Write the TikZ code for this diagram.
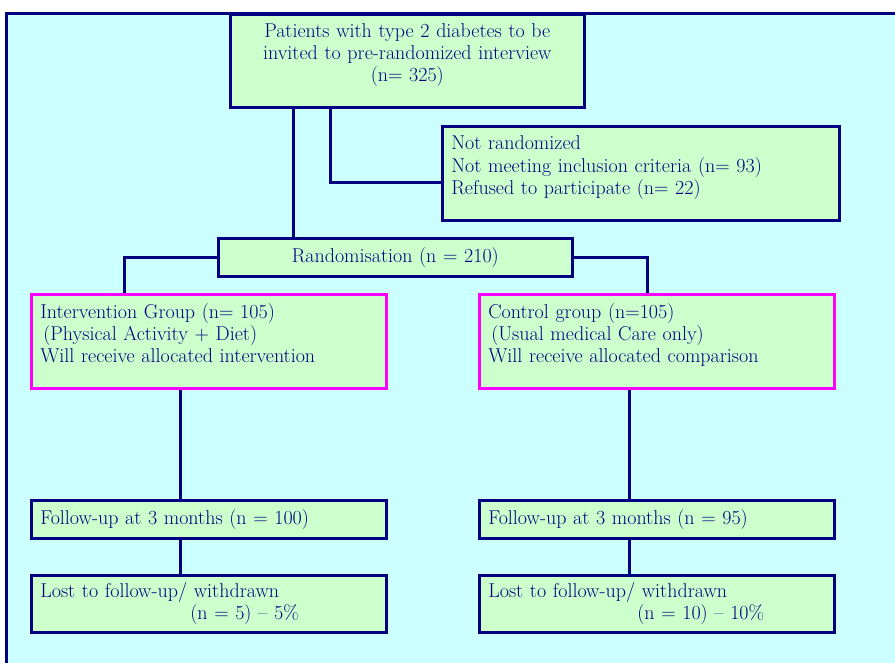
\documentclass[tikz,border=0pt]{standalone}
\usetikzlibrary{positioning,calc}
\definecolor{navy}{HTML}{000080}
\definecolor{paleCyan}{HTML}{CCFFFF}
\definecolor{paleGreen}{HTML}{CCFFCC}
\definecolor{pinkBorder}{HTML}{FF00FF}

\begin{document}
\begin{tikzpicture}[
    x=1pt, y=-1pt,
    box/.style   = {draw=navy, line width=2.6pt, fill=paleGreen, anchor=north west,
                    inner xsep=9pt, inner ysep=6pt, text width=337pt, align=left,
                    text=navy, font=\fontsize{20}{22.3}\selectfont},
    arm/.style   = {box, draw=pinkBorder, minimum height=94pt},
    thin/.style  = {box, minimum height=38pt},
    link/.style  = {draw=navy, line width=2.6pt},
]
\clip (0,0) rectangle (895,663);
\fill[white] (0,0) rectangle (895,663);
\filldraw[fill=paleCyan, draw=navy, line width=2.8pt] (6.5,13.5) rectangle (910,680);

% screening
\node[box, text width=336pt, align=center, minimum height=93pt] (top) at (229,13)
    {Patients with type 2 diabetes to be\\invited to pre-randomized interview\\(n= 325)\\[-6pt]\mbox{}};
\node[box, text width=379pt, minimum height=94pt] (notrnd) at (441,125)
    {Not randomized\\Not meeting inclusion criteria (n= 93)\\Refused to participate (n= 22)\\[-6pt]\mbox{}};
\node[thin, text width=336pt, align=center] (rnd) at (217,237) {Randomisation (n = 210)};

% allocation
\node[arm] (intv) at (30,293)
    {Intervention Group (n= 105)\\\hspace*{3pt}(Physical Activity + Diet)\\Will receive allocated intervention\\[-6pt]\mbox{}};
\node[arm] (ctrl) at (478,293)
    {Control group (n=105)\\\hspace*{3pt}(Usual medical Care only)\\Will receive allocated comparison\\[-6pt]\mbox{}};

% follow-up
\node[thin] (fup1) at (30,499) {Follow-up at 3 months (n = 100)};
\node[thin] (fup2) at (478,499) {Follow-up at 3 months (n = 95)};
\node[box, minimum height=57pt] (lost1) at (30,574)
    {Lost to follow-up/ withdrawn\\\hspace*{150pt}(n = 5) -- 5\%};
\node[box, minimum height=57pt] (lost2) at (478,574)
    {Lost to follow-up/ withdrawn\\\hspace*{149pt}(n = 10) -- 10\%};

\draw[link] ([xshift=-114pt]top.south) -- ([xshift=-102pt]rnd.north);
\draw[link] ([xshift=-77pt]top.south) |- ([yshift=-9pt]notrnd.west);
\draw[link] (rnd.west) -| ([xshift=-84.5pt]intv.north);
\draw[link] (rnd.east) -| ([xshift=-9.5pt]ctrl.north);
\draw[link] ([xshift=-28.5pt]intv.south) -- ([xshift=-28.5pt]fup1.north);
\draw[link] ([xshift=-27.5pt]ctrl.south) -- ([xshift=-27.5pt]fup2.north);
\draw[link] ([xshift=-28.5pt]fup1.south) -- ([xshift=-28.5pt]lost1.north);
\draw[link] ([xshift=-27.5pt]fup2.south) -- ([xshift=-27.5pt]lost2.north);
\end{tikzpicture}
\end{document}
